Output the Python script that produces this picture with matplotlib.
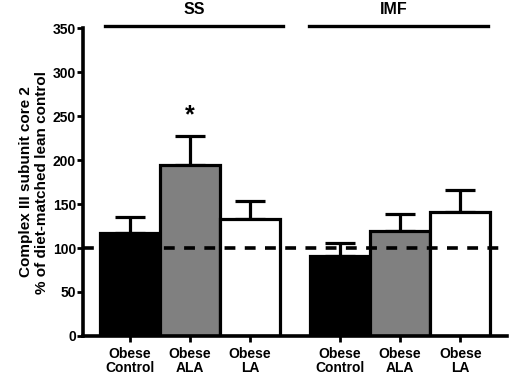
import matplotlib
matplotlib.use("Agg")
import matplotlib.pyplot as plt

plt.rcParams['font.family'] = ['Liberation Sans', 'DejaVu Sans']
plt.rcParams['font.weight'] = 'bold'

categories = ["Obese\nControl", "Obese\nALA", "Obese\nLA", "Obese\nControl", "Obese\nALA", "Obese\nLA"]
groups = ["SS", "IMF"]
values = [117, 194, 133, 91, 119, 141]
errors = [18, 33, 20, 15, 20, 25]
colors = ["black", "#808080", "white", "black", "#808080", "white"]
positions = [0, 1, 2, 3.5, 4.5, 5.5]
yticks = [0, 50, 100, 150, 200, 250, 300, 350]

fig = plt.figure(figsize=(5.14, 3.79), dpi=100)
ax = fig.add_axes([0.1615, 0.1135, 0.825, 0.8125])

ax.bar(positions, values, width=1.0, color=colors, edgecolor="black", linewidth=2.3, zorder=2)
ax.errorbar(positions, values, yerr=[[0]*6, errors], fmt="none", ecolor="black",
            elinewidth=2.3, capsize=11, capthick=2.3, zorder=1)
ax.axhline(100, color="black", linestyle=(0, (3.0, 2.6)), linewidth=2.6, zorder=3)

ax.set_xlim(-0.78, 6.28)
ax.set_ylim(0, 350)
ax.set_yticks(yticks)
ax.set_xticks(positions)
ax.set_xticklabels(categories, fontsize=10, fontweight='bold', linespacing=1.0)
ax.tick_params(axis='y', labelsize=10, width=2, length=4, direction='out', pad=1)
ax.tick_params(axis='x', width=2, length=4, direction='out', pad=4)
for lab in ax.get_yticklabels():
    lab.set_fontweight('bold')

for s in ['top', 'right']:
    ax.spines[s].set_visible(False)
for s in ['left', 'bottom']:
    ax.spines[s].set_linewidth(2.6)

ax.set_ylabel("Complex III subunit core 2\n% of diet-matched lean control",
              fontsize=11, fontweight='bold', labelpad=3, linespacing=1.15)

# group headers
ax.plot([-0.42, 2.55], [352, 352], color="black", linewidth=2.4, clip_on=False)
ax.plot([2.98, 5.97], [352, 352], color="black", linewidth=2.4, clip_on=False)
ax.text(1.08, 362, groups[0], ha='center', va='bottom', fontsize=11.5, fontweight='bold')
ax.text(4.4, 362, groups[1], ha='center', va='bottom', fontsize=11.5, fontweight='bold')

ax.text(1, 237, "*", ha='center', va='bottom', fontsize=18, fontweight='bold')

fig.savefig("out.png", dpi=100)
